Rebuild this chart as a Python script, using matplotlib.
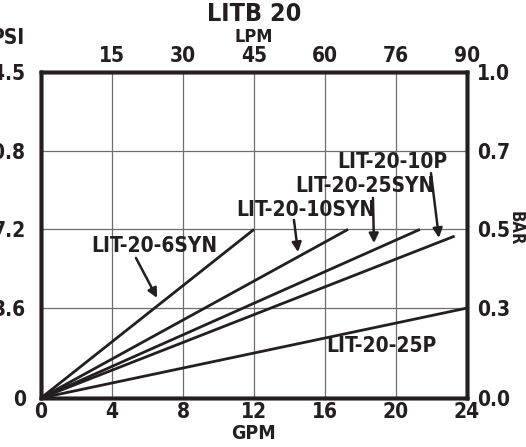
import numpy as np
import matplotlib.pyplot as plt

plt.rcParams['font.family'] = ['Liberation Sans Narrow', 'DejaVu Sans']
plt.rcParams['font.stretch'] = 'condensed'
plt.rcParams['font.weight'] = 'bold'
plt.rcParams['axes.labelweight'] = 'bold'

INK = '#231f20'

# flow (GPM) and pressure drop at the end of each curve; every curve starts at 0
series = ['LIT-20-6SYN', 'LIT-20-10SYN', 'LIT-20-25SYN', 'LIT-20-10P', 'LIT-20-25P']
end_gpm = [12.0, 17.3, 21.35, 23.3, 24.0]
end_psi = [7.5, 7.5, 7.5, 7.2, 4.0]

gpm_ticks = [0, 4, 8, 12, 16, 20, 24]
lpm_labels = ['', '15', '30', '45', '60', '76', '90']
psi_ticks = [0, 4.0, 7.5, 11.0, 14.5]
psi_labels = ['0', '3.6', '7.2', '10.8', '14.5']
bar_labels = ['0.0', '0.3', '0.5', '0.7', '1.0']

fig = plt.figure(figsize=(5.26, 4.47), dpi=100)
ax = fig.add_axes([41/526, 49/447, 426/526, 326/447])

for i in range(len(series)):
    ax.plot([0, end_gpm[i]], [0, end_psi[i]], color=INK, lw=2.0, solid_capstyle='butt')

ax.set_xlim(0, 24)
ax.set_ylim(0, 14.5)
ax.set_xticks(gpm_ticks)
ax.set_xticklabels([str(t) for t in gpm_ticks])
ax.set_yticks(psi_ticks)
ax.set_yticklabels(psi_labels)
ax.grid(True, color='#6e6e6e', lw=0.9)
ax.tick_params(axis='x', length=0, pad=3, labelsize=15, colors=INK)
ax.tick_params(axis='y', length=0, pad=11, labelsize=15, colors=INK)
for s in ax.spines.values():
    s.set_linewidth(2.5)
    s.set_color(INK)
ax.set_xlabel('GPM', fontsize=14, color=INK, labelpad=1)

# top axis in LPM
top = ax.twiny()
top.set_xlim(ax.get_xlim())
top.set_xticks(gpm_ticks)
top.set_xticklabels(lpm_labels)
top.tick_params(axis='x', length=0, pad=4, labelsize=15, colors=INK)

# right axis in BAR
right = ax.twinx()
right.set_ylim(ax.get_ylim())
right.set_yticks(psi_ticks)
right.set_yticklabels(bar_labels)
right.tick_params(axis='y', length=0, pad=7, labelsize=15, colors=INK)
for a in (top, right):
    for s in a.spines.values():
        s.set_linewidth(2.5)
        s.set_color(INK)

fig.text(254/526, 1 - 14/447, 'LITB 20', ha='center', va='center', fontsize=18, color=INK)
fig.text(254/526, 1 - 37/447, 'LPM', ha='center', va='center', fontsize=13, color=INK)
fig.text(24/526, 1 - 38/447, 'PSI', ha='right', va='center', fontsize=15, color=INK)
fig.text(516/526, 1 - 228/447, 'BAR', ha='center', va='center', rotation=270,
         fontsize=12, color=INK)

# curve labels with arrows
arrow = dict(arrowstyle='-|>', color=INK, lw=1.8, mutation_scale=14, shrinkA=0, shrinkB=0)
lab = dict(fontsize=15, color=INK, ha='center', va='center')
ax.text(6.37, 6.78, 'LIT-20-6SYN', **lab)
ax.annotate('', xy=(6.54, 4.45), xytext=(5.35, 6.23), arrowprops=arrow)
ax.text(14.93, 8.36, 'LIT-20-10SYN', **lab)
ax.annotate('', xy=(14.48, 6.49), xytext=(14.25, 7.92), arrowprops=arrow)
ax.text(18.25, 9.43, 'LIT-20-25SYN', **lab)
ax.annotate('', xy=(18.76, 6.89), xytext=(18.7, 8.9), arrowprops=arrow)
ax.text(19.8, 10.5, 'LIT-20-10P', **lab)
ax.annotate('', xy=(22.42, 7.12), xytext=(21.97, 10.0), arrowprops=arrow)
ax.text(19.2, 2.31, 'LIT-20-25P', **lab)

fig.savefig('out.png', dpi=100)
